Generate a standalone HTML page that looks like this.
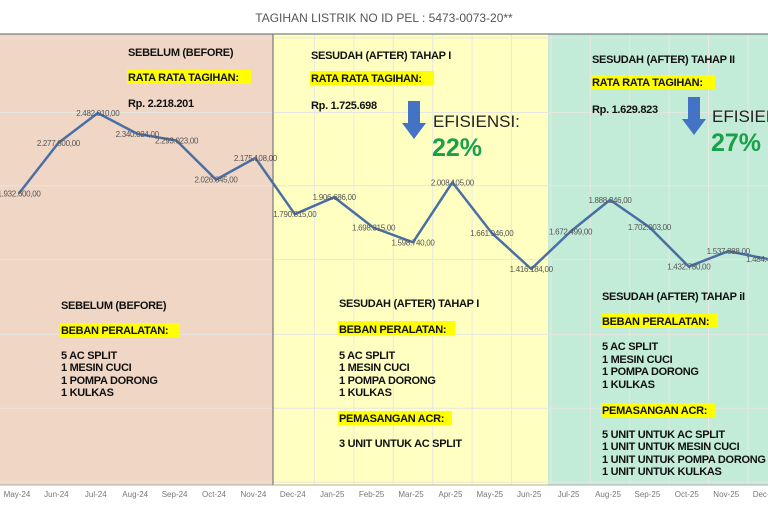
<!DOCTYPE html>
<html><head><meta charset="utf-8"><style>
html,body{margin:0;padding:0;background:#fff;}
svg{display:block;font-family:"Liberation Sans",sans-serif;}
.b{font-weight:bold;font-size:11px;fill:#111;letter-spacing:-0.3px}
.lbl{font-size:8px;fill:#555;letter-spacing:-0.3px}
.ax{font-size:8px;fill:#777}
</style></head><body>
<svg id="chart" width="768" height="512">
<text x="384" y="22" text-anchor="middle" font-size="12" fill="#555">TAGIHAN LISTRIK NO ID PEL : 5473-0073-20**</text>
<rect x="0" y="34" width="273" height="451" fill="#f0d6c5"/>
<rect x="273" y="34" width="275" height="451" fill="#ffffc2"/>
<rect x="548" y="34" width="220" height="451" fill="#c2ebd8"/>
<g id="grid"></g>
<line x1="0" y1="34" x2="768" y2="34" stroke="#5a6470" stroke-width="1"/>
<line x1="273" y1="34" x2="273" y2="485" stroke="#5a6470" stroke-width="1"/>
<line x1="0" y1="485" x2="768" y2="485" stroke="#999" stroke-width="0.8"/>
<g id="series"></g>
<g id="xlabels"></g>

<g>
<text class="b" x="128" y="56">SEBELUM (BEFORE)</text>
<rect x="127" y="70" width="124" height="14" fill="#ffff00"/>
<text class="b" x="128" y="81">RATA RATA TAGIHAN:</text>
<text class="b" x="128" y="107">Rp. 2.218.201</text>
</g>
<g>
<text class="b" x="311" y="59">SESUDAH (AFTER) TAHAP I</text>
<rect x="310" y="71" width="124" height="14" fill="#ffff00"/>
<text class="b" x="311" y="82">RATA RATA TAGIHAN:</text>
<text class="b" x="311" y="109">Rp. 1.725.698</text>
<path d="M408,101 h12 v22 h6 l-12,16 l-12,-16 h6 z" fill="#4472c4"/>
<text x="433" y="127" font-size="17" fill="#222">EFISIENSI:</text>
<text x="432" y="156" font-size="25" font-weight="bold" fill="#1aa04a">22%</text>
</g>
<g>
<text class="b" x="592" y="63">SESUDAH (AFTER) TAHAP II</text>
<rect x="591" y="75" width="124" height="14" fill="#ffff00"/>
<text class="b" x="592" y="86">RATA RATA TAGIHAN:</text>
<text class="b" x="592" y="113">Rp. 1.629.823</text>
<path d="M688,97 h12 v22 h6 l-12,16 l-12,-16 h6 z" fill="#4472c4"/>
<text x="712" y="122" font-size="17" fill="#222">EFISIENSI:</text>
<text x="711" y="151" font-size="25" font-weight="bold" fill="#1aa04a">27%</text>
</g>
<g>
<text class="b" x="61" y="309">SEBELUM (BEFORE)</text>
<rect x="60" y="323" width="120" height="14" fill="#ffff00"/>
<text class="b" x="61" y="334">BEBAN PERALATAN:</text>
<text class="b" x="61" y="359">5 AC SPLIT</text>
<text class="b" x="61" y="371">1 MESIN CUCI</text>
<text class="b" x="61" y="384">1 POMPA DORONG</text>
<text class="b" x="61" y="396">1 KULKAS</text>
</g>
<g>
<text class="b" x="339" y="307">SESUDAH  (AFTER) TAHAP I</text>
<rect x="338" y="321" width="117" height="14" fill="#ffff00"/>
<text class="b" x="339" y="333">BEBAN PERALATAN:</text>
<text class="b" x="339" y="359">5 AC SPLIT</text>
<text class="b" x="339" y="371">1 MESIN CUCI</text>
<text class="b" x="339" y="384">1 POMPA DORONG</text>
<text class="b" x="339" y="396">1 KULKAS</text>
<rect x="338" y="411" width="114" height="14" fill="#ffff00"/>
<text class="b" x="339" y="422">PEMASANGAN ACR:</text>
<text class="b" x="339" y="447">3 UNIT UNTUK AC SPLIT</text>
</g>
<g>
<text class="b" x="602" y="300">SESUDAH  (AFTER) TAHAP iI</text>
<rect x="601" y="314" width="117" height="14" fill="#ffff00"/>
<text class="b" x="602" y="325">BEBAN PERALATAN:</text>
<text class="b" x="602" y="350">5 AC SPLIT</text>
<text class="b" x="602" y="363">1 MESIN CUCI</text>
<text class="b" x="602" y="375">1 POMPA DORONG</text>
<text class="b" x="602" y="388">1 KULKAS</text>
<rect x="601" y="403" width="114" height="14" fill="#ffff00"/>
<text class="b" x="602" y="414">PEMASANGAN ACR:</text>
<text class="b" x="602" y="438">5 UNIT UNTUK AC SPLIT</text>
<text class="b" x="602" y="450">1 UNIT UNTUK MESIN CUCI</text>
<text class="b" x="602" y="463">1 UNIT UNTUK POMPA DORONG</text>
<text class="b" x="602" y="475">1 UNIT UNTUK KULKAS</text>
</g>
</svg>
<script>
const months = ["May-24","Jun-24","Jul-24","Aug-24","Sep-24","Oct-24","Nov-24","Dec-24","Jan-25","Feb-25","Mar-25","Apr-25","May-25","Jun-25","Jul-25","Aug-25","Sep-25","Oct-25","Nov-25","Dec-25"];
const bills = [1932600,2277800,2482010,2340024,2293023,2026845,2175108,1790815,1906686,1698315,1598740,2008105,1661946,1416184,1672499,1888246,1702003,1432780,1537888,1484400];
const billLabels = ["1.932.600,00","2.277.800,00","2.482.010,00","2.340.024,00","2.293.023,00","2.026.845,00","2.175.108,00","1.790.815,00","1.906.686,00","1.698.315,00","1.598.740,00","2.008.105,00","1.661.946,00","1.416.184,00","1.672.499,00","1.888.246,00","1.702.003,00","1.432.780,00","1.537.888,00","1.484.400,00"];
const gridValues = [2995000,2485000,1985000,1480000,970000,465000,-40000];

const NS="http://www.w3.org/2000/svg";
const xOf = i => 19 + i*39.4;
const yOf = v => 113 + (2482010 - v)*1.4637e-4;
function mk(tag, attrs, parent){const e=document.createElementNS(NS,tag);for(const k in attrs)e.setAttribute(k,attrs[k]);parent.appendChild(e);return e;}
const grid=document.getElementById('grid');
gridValues.forEach(v=>{
  const l=mk('line',{x1:0,x2:768,y1:yOf(v),y2:yOf(v),stroke:'#e6e6e0','stroke-width':1},grid);
  
  
});
months.forEach((m,i)=>{
  const x=xOf(i)-19.7;
  if(x>280){
    const l=mk('line',{x1:x,x2:x,y1:34,y2:485,stroke:'#e8e8e0','stroke-width':1},grid);
    
    
  }
});
const s=document.getElementById('series');
const pts=bills.map((v,i)=>xOf(i)+','+yOf(v)).join(' ');
const line=mk('polyline',{points:pts,fill:'none',stroke:'#4a6fa5','stroke-width':2.5,'stroke-linejoin':'round'},s);


bills.forEach((v,i)=>{
  const t=mk('text',{x:xOf(i),y:yOf(v)+3,'text-anchor':'middle',class:'lbl'},s);
  t.textContent=billLabels[i];
  
  
});
const xl=document.getElementById('xlabels');
months.forEach((m,i)=>{
  const t=mk('text',{x:xOf(i)-2,y:497,'text-anchor':'middle',class:'ax'},xl);
  t.textContent=m;
  
  
});
</script>
</body></html>
